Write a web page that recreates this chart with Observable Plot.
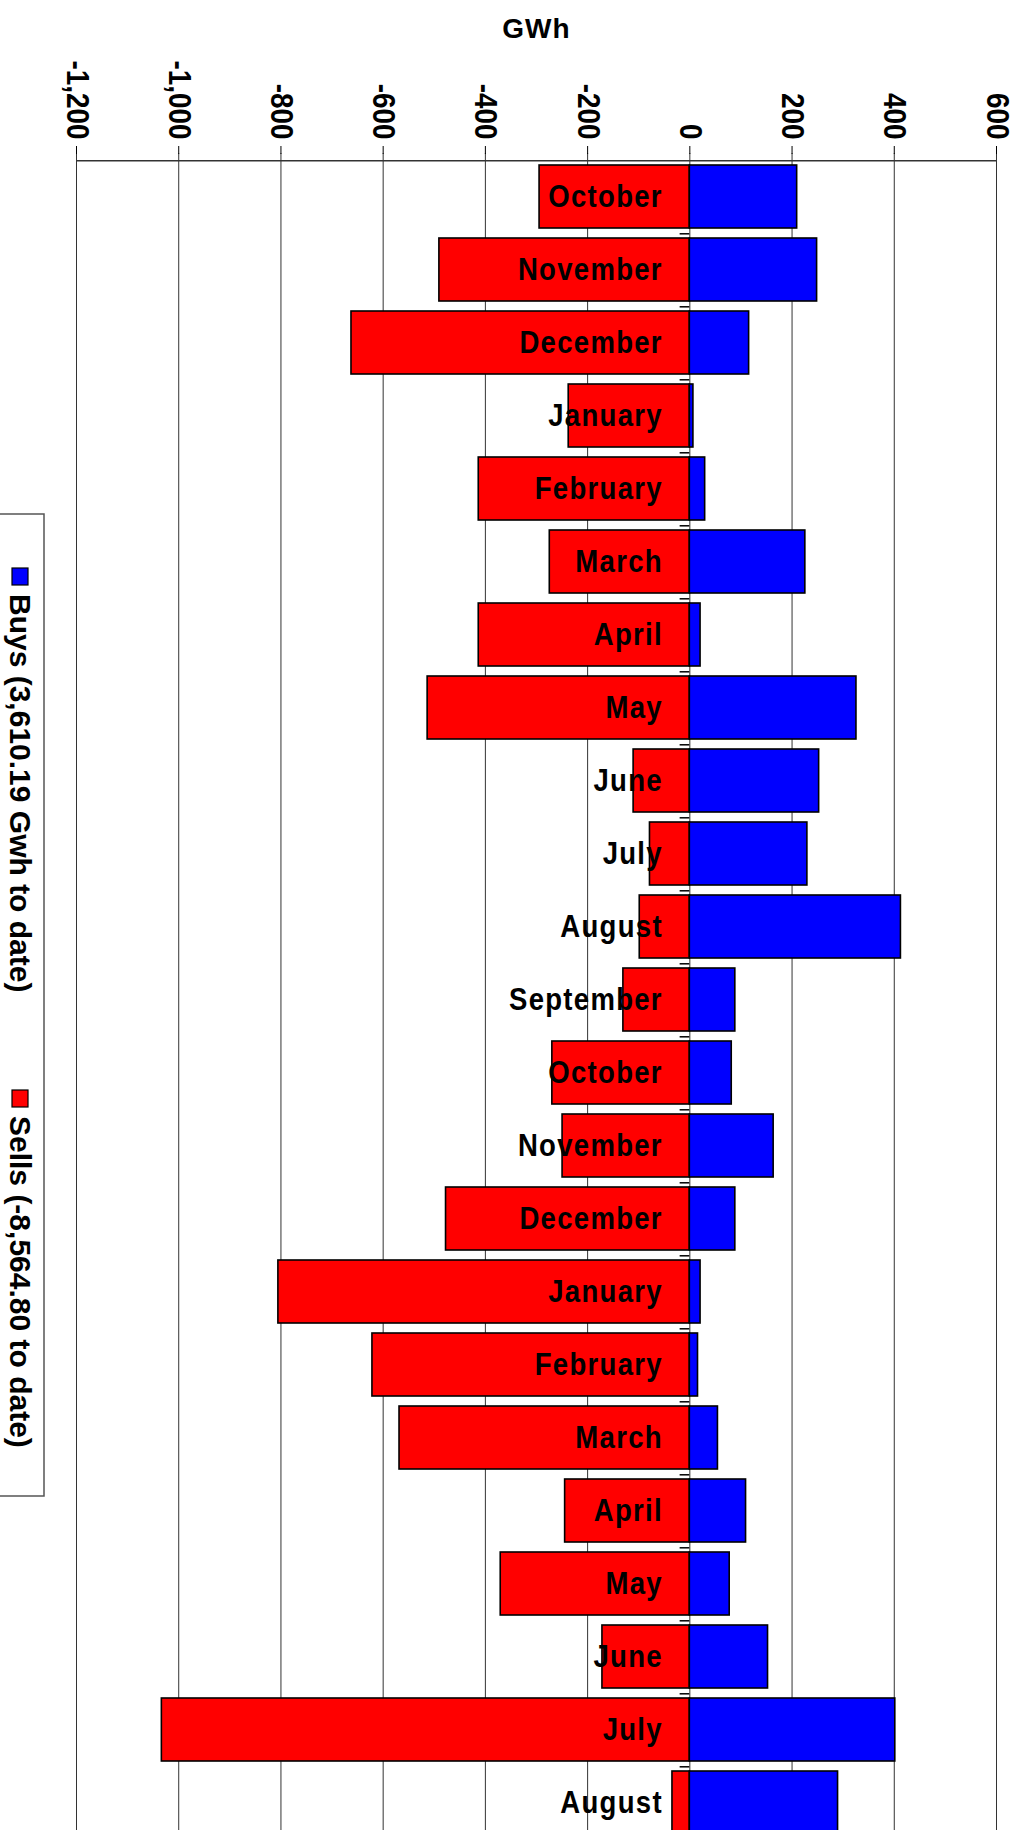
<!DOCTYPE html>
<html>
<head>
<meta charset="utf-8">
<script src="https://cdn.jsdelivr.net/npm/d3@7"></script>
<script src="https://cdn.jsdelivr.net/npm/@observablehq/plot@0.6"></script>
<style>
  html, body { margin: 0; padding: 0; background: #fff; overflow: hidden; }
  #wrap { position: relative; width: 1020px; height: 1830px; overflow: hidden; }
  #legend { position: absolute; left: 0; top: 0; }
</style>
</head>
<body>
<div id="wrap"><div id="chart"></div><svg id="legend" width="60" height="1830"></svg></div>
<script>
const months = ["October","November","December","January","February","March","April","May","June","July","August","September",
                "October","November","December","January","February","March","April","May","June","July","August"];
const buys  = [210, 249, 116, 7, 30, 226, 21, 326, 253, 230, 413, 89, 82, 164, 89, 21, 16, 55, 110, 78, 153, 402, 290];
const sells = [-294, -490, -662, -237, -413, -274, -413, -513, -110, -78, -98, -130, -269, -249, -477, -805, -621, -568, -244, -370, -171, -1033, -34];
const xTicks = [-1200, -1000, -800, -600, -400, -200, 0, 200, 400, 600];
const xTickLabels = ["-1,200", "-1,000", "-800", "-600", "-400", "-200", "0", "200", "400", "600"];
const legendLabels = ["Buys (3,610.19 Gwh to date)", "Sells (-8,564.80 to date)"];
const seriesColors = ["#0000ff", "#ff0000"];

const rows = months.map((m, i) => ({id: i, month: m, buy: buys[i], sell: sells[i]}));

const sans = "'Liberation Sans', Arial, Helvetica, sans-serif";
const bandShift = -36.2;

const chart = Plot.plot({
  width: 1020,
  height: 1846,
  marginTop: 153,
  marginBottom: 0,
  marginLeft: 76,
  marginRight: 24,
  style: {background: "#fff", color: "#000"},
  x: {domain: [-1200, 600]},
  y: {domain: rows.map(d => d.id), paddingInner: 0.137, paddingOuter: 0.06, axis: null},
  marks: [
    Plot.gridX(xTicks, {stroke: "#333", strokeOpacity: 1, strokeWidth: 1}),
    Plot.axisX(xTicks, {
      anchor: "top", tickSize: 8, tickPadding: 6, tickRotate: 90,
      tickFormat: (d) => xTickLabels[xTicks.indexOf(d)],
      fontSize: 31, fontWeight: "bold", fontFamily: sans, fill: "#000",
      label: null
    }),
    Plot.ruleY([rows[0]], {y: "id", dy: bandShift, stroke: "#333", strokeWidth: 1.5}),
    Plot.barX(rows, {y: "id", x1: 0, x2: "sell", fill: seriesColors[1], stroke: "#000", strokeWidth: 1.6}),
    Plot.barX(rows, {y: "id", x1: 0, x2: "buy", fill: seriesColors[0], stroke: "#000", strokeWidth: 1.6}),
    Plot.ruleY(rows.slice(1), {y: "id", x1: -19, x2: 0, dy: bandShift, stroke: "#000", strokeWidth: 1.5}),
    Plot.text(rows, {
      y: "id", x: 0, text: "month", textAnchor: "end", dx: -27,
      fontSize: 32, fontWeight: "bold", fontFamily: sans, fill: "#000"
    }),
    Plot.text(["GWh"], {
      frameAnchor: "top", text: d => d, dy: -124, lineAnchor: "middle",
      fontSize: 28, fontWeight: "bold", fontFamily: sans, fill: "#000"
    })
  ]
});
document.getElementById("chart").appendChild(chart);

// condense glyphs like the original narrow face
function condense(el, factor) {
  const len = el.getComputedTextLength();
  if (len > 0) {
    el.setAttribute("textLength", (len * factor).toFixed(1));
    el.setAttribute("lengthAdjust", "spacingAndGlyphs");
  }
}
chart.querySelectorAll("text").forEach(t => {
  const s = t.textContent;
  if (months.includes(s)) { t.setAttribute("letter-spacing", "1.5"); condense(t, 0.86); }
  else if (xTickLabels.includes(s)) condense(t, 0.9);
  else if (s === "GWh") t.setAttribute("letter-spacing", "1");
});

// Legend (rotated, at left)
const lg = d3.select("#legend");
lg.append("rect").attr("x", -2).attr("y", 514).attr("width", 46).attr("height", 982)
  .attr("fill", "#fff").attr("stroke", "#555").attr("stroke-width", 1.5);
const legendItems = [{y: 568, text: legendLabels[0], color: seriesColors[0]},
                     {y: 1090, text: legendLabels[1], color: seriesColors[1]}];
legendItems.forEach(it => {
  lg.append("rect").attr("x", 12).attr("y", it.y).attr("width", 16).attr("height", 17)
    .attr("fill", it.color).attr("stroke", "#000").attr("stroke-width", 1.2);
  lg.append("text").attr("transform", `translate(10,${it.y + 26}) rotate(90)`)
    .attr("font-family", sans).attr("font-weight", "bold").attr("font-size", 30)
    .attr("fill", "#000").text(it.text);
});
</script>
</body>
</html>
